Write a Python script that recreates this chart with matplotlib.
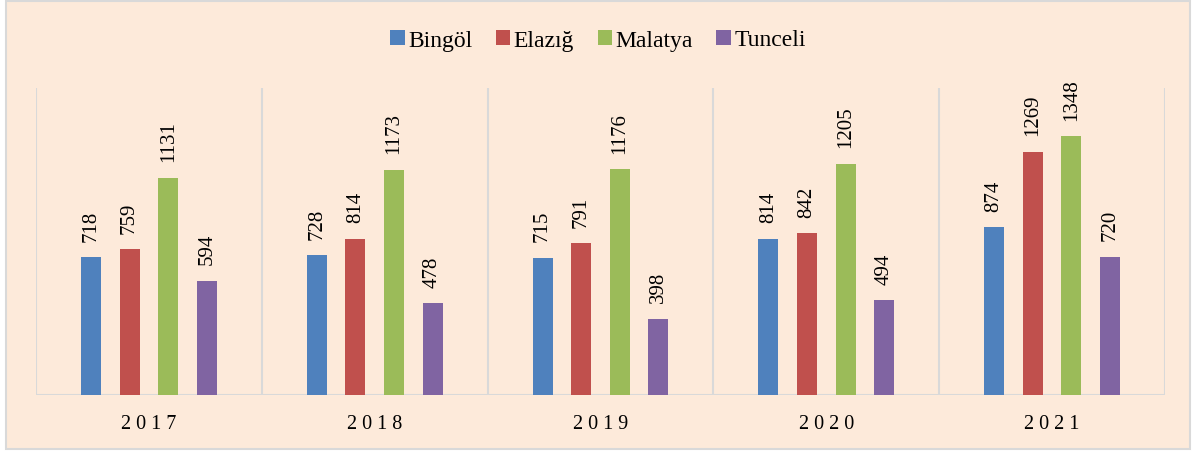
import matplotlib.pyplot as plt
import numpy as np
from matplotlib.patches import Rectangle

years = ["2017", "2018", "2019", "2020", "2021"]
provinces = ["Bingöl", "Elazığ", "Malatya", "Tunceli"]
bingol = [718, 728, 715, 814, 874]
elazig = [759, 814, 791, 842, 1269]
malatya = [1131, 1173, 1176, 1205, 1348]
tunceli = [594, 478, 398, 494, 720]

colors = ["#4F81BD", "#C0504D", "#9BBB59", "#8064A2"]
bg = "#FDEADA"

plt.rcParams['font.family'] = ['Liberation Serif', 'DejaVu Serif']

fig = plt.figure(figsize=(11.96, 4.52), dpi=100)
fig.patch.set_facecolor("white")
# outer chart frame, behind everything
fig.patches.append(Rectangle((6 / 1196, 2 / 452), 1184 / 1196, 448 / 452,
                             transform=fig.transFigure, facecolor=bg,
                             edgecolor="#D9D9D9", linewidth=1.5, zorder=-10))

ax = fig.add_axes([36 / 1196, 56 / 452, 1129 / 1196, 307 / 452])
ax.set_facecolor("none")

x = np.arange(len(years))
step = 0.171
width = 0.089
series = [bingol, elazig, malatya, tunceli]
for i, (name, vals) in enumerate(zip(provinces, series)):
    pos = x + (i - 1.5) * step
    ax.bar(pos, vals, width, color=colors[i], label=name, zorder=3)
    for p, v in zip(pos, vals):
        ax.annotate(str(v), (p, v), xytext=(0, 12), textcoords="offset points",
                    rotation=90, ha="center", va="bottom", fontsize=15)

ax.set_xlim(-0.5, len(years) - 0.5)
ax.set_ylim(0, 1600)
for b in np.arange(-0.5, len(years), 1):
    ax.axvline(b, color="#D9D9D9", linewidth=1.5, zorder=1)

for s in ax.spines.values():
    s.set_visible(False)
ax.axhline(0, color="#D9D9D9", linewidth=1.5, zorder=2)
ax.set_yticks([])
ax.set_xticks(x)
ax.set_xticklabels([" ".join(y) for y in years], fontsize=14.5)
ax.tick_params(axis="x", length=0, pad=14)

leg = fig.legend(loc="center", bbox_to_anchor=(0.5, 1 - 41 / 452), ncol=4,
                 frameon=False, fontsize=17, handlelength=0.6, handleheight=0.6,
                 handletextpad=0.15, columnspacing=1.0)

fig.savefig("out.png", dpi=100, facecolor=fig.get_facecolor())
